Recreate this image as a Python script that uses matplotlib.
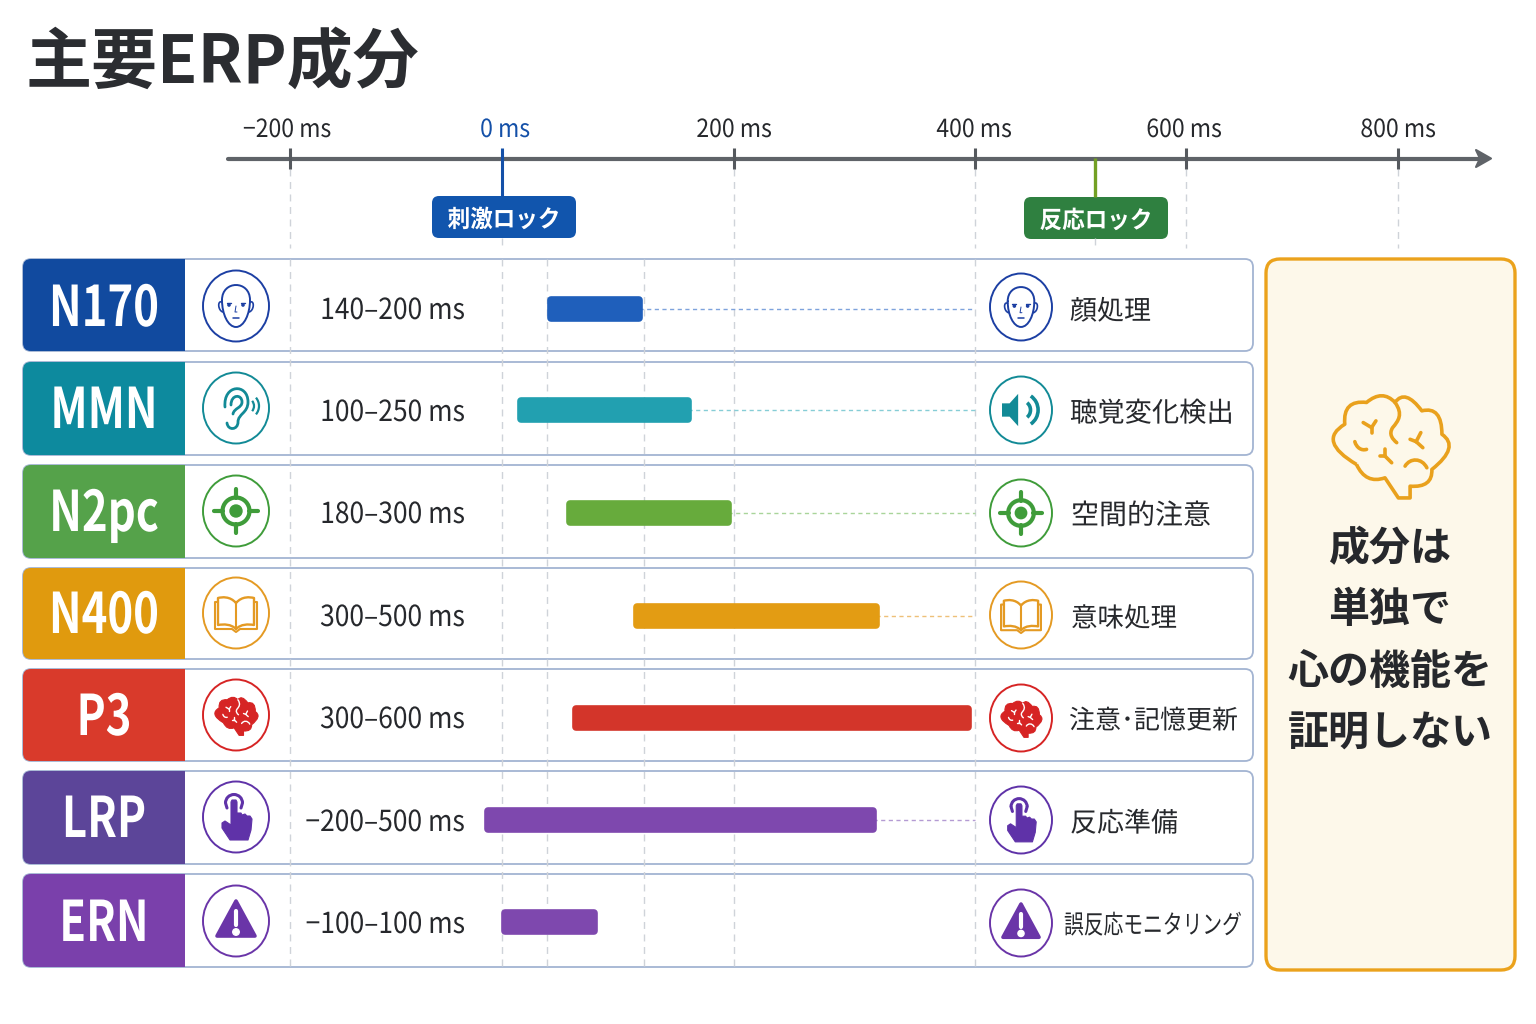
import numpy as np
import matplotlib
matplotlib.use("Agg")
import matplotlib.pyplot as plt
from matplotlib.patches import Arc, Ellipse, FancyBboxPatch, PathPatch, Polygon, Rectangle
from matplotlib.patheffects import AbstractPathEffect
from matplotlib.path import Path
from matplotlib.transforms import Affine2D

plt.rcParams["font.family"] = ["Noto Sans CJK JP", "DejaVu Sans"]

components = ["N170", "MMN", "N2pc", "N400", "P3", "LRP", "ERN"]
ranges = ["140–200 ms", "100–250 ms", "180–300 ms", "300–500 ms", "300–600 ms",
          "−200–500 ms", "−100–100 ms"]
functions_jp = ["顔処理", "聴覚変化検出", "空間的注意", "意味処理", "注意･記憶更新",
                "反応準備", "誤反応モニタリング"]
# bar ends as drawn against the axis (the picture does not follow the printed ranges)
bar_start = [42, 16, 59, 116, 64, -13, 3]
bar_end = [118, 160, 195, 318, 394, 315, 79]
has_link = [True, True, True, True, False, True, False]
tick_ms = [-200, 0, 200, 400, 600, 800]
tick_labels = ["−200 ms", "0 ms", "200 ms", "400 ms", "600 ms", "800 ms"]
bar_edges_ms = [39, 122]
response_lock_ms = 514
panel_lines = ["成分は", "単独で", "心の機能を", "証明しない"]

block_colors = ["#114a9f", "#0d8a9e", "#55a24a", "#e09a0e", "#d93a2b", "#5c4599", "#7a40ab"]
bar_colors = ["#1f5fbb", "#22a0b0", "#67ab3c", "#e39c13", "#d3352a", "#7e48ae", "#7e48ae"]
icon_colors = ["#1c3fa3", "#128a96", "#3f9c3a", "#e49a23", "#d62424", "#5f32a8", "#6a35a8"]
link_colors = ["#7ea3dc", "#86cdd6", "#a9d59a", "#eec078", "#e9a0a0", "#b49bd3", "#b49bd3"]

# layout, pixels of the 1536x1024 picture
row_top = [259, 362, 465, 568, 669, 771, 874]
row_bottom = [351, 455, 558, 659, 761, 864, 967]
left_icon_y = [306, 408, 511, 613, 715, 817, 921]
right_icon_y = [307, 410, 513, 615, 718, 820, 923]
text_y = [312, 414, 516, 619, 721, 824, 926]
bar_y = [309, 410, 513, 616, 718, 820, 922]
label_dx = [-3, 3, 0, -1, -2, 0]
fn_x = [1070, 1070, 1071, 1071, 1069, 1070, 1064]
fn_px = [27, 27.3, 28, 26.5, 26, 27, 26]
fn_sx = [1, 1, 1, 1, 1, 1, 0.76]

INK = "#26282c"
GRID = "#cfd3d9"
AXIS = "#5f6368"
BLUE = "#1450a8"
GREEN_TICK = "#73a024"


class Squeeze(AbstractPathEffect):
    # narrows glyphs around a fixed x, none of the installed fonts is condensed
    def __init__(self, sx, x0):
        super().__init__()
        self.sx = sx
        self.x0 = x0

    def draw_path(self, renderer, gc, tpath, affine, rgbFace=None):
        squeeze = Affine2D().translate(-self.x0, 0).scale(self.sx, 1).translate(self.x0, 0)
        renderer.draw_path(gc, tpath, affine + squeeze, rgbFace)


def px(size):
    return size * 0.72


def bez(*parts):
    verts, codes = [], []
    for i, p in enumerate(parts):
        if len(p) == 2:
            verts.append(p)
            codes.append(Path.MOVETO if i == 0 else Path.LINETO)
        else:
            verts += [p[:2], p[2:4], p[4:6]]
            codes += [Path.CURVE4] * 3
    return np.array(verts, float), codes


def stroke(ax, cx, cy, s, parts, color, lw, fill=None):
    verts, codes = bez(*parts)
    verts = verts * s + [cx, cy]
    ax.add_patch(PathPatch(Path(verts, codes), fc=fill or "none", ec=color, lw=lw,
                           capstyle="round", joinstyle="round", zorder=4))


def poly(ax, cx, cy, s, pts, color, lw=0.0, edge=None):
    ax.add_patch(Polygon(np.array(pts, float) * s + [cx, cy], closed=True, fc=color,
                         ec=edge or color, lw=lw, joinstyle="round", zorder=4))


def arc(ax, cx, cy, r, t1, t2, color, lw):
    ax.add_patch(Arc((cx, cy), 2 * r, 2 * r, theta1=t1, theta2=t2, color=color, lw=lw, zorder=4))


def face_icon(ax, cx, cy, s, c):
    head = [(-14, -6), (-14, -26, 14, -26, 14, -6), (14, 8, 8, 21, 0, 21),
            (-8, 21, -14, 8, -14, -6)]
    stroke(ax, cx, cy, s, head, c, 1.4)
    stroke(ax, cx, cy, s, [(-14, -4), (-19, -6, -18, 5, -13, 6)], c, 1.2)
    stroke(ax, cx, cy, s, [(14, -4), (19, -6, 18, 5, 13, 6)], c, 1.2)
    for side in (-1, 1):
        stroke(ax, cx, cy, s, [(side * 9, -3), (side * 5, -3)], c, 1.0)
        ax.add_patch(Ellipse((cx + side * 7 * s, cy - 1 * s), 2.2, 2.2, color=c, zorder=4))
    stroke(ax, cx, cy, s, [(0, 0), (-1, 6), (1, 6)], c, 0.7)
    stroke(ax, cx, cy, s, [(-3, 12), (3, 12)], c, 1.1)


def ear_icon(ax, cx, cy, s, c):
    outer = [(-11, -1), (-13, -24, 12, -25, 12, -6), (12, 5, 2, 6, 2, 14), (2, 22, -8, 23, -9, 15)]
    inner = [(-5, -3), (-5, -14, 6, -14, 6, -6), (6, 0, -2, 0, -3, 6)]
    stroke(ax, cx, cy, s, outer, c, 2.0)
    stroke(ax, cx, cy, s, inner, c, 2.0)
    arc(ax, cx + 10 * s, cy - 2 * s, 8 * s, -40, 40, c, 1.6)
    arc(ax, cx + 10 * s, cy - 2 * s, 13 * s, -40, 40, c, 1.6)


def speaker_icon(ax, cx, cy, s, c):
    poly(ax, cx, cy, s, [(-20, -7), (-12, -7), (-3, -17), (-3, 17), (-12, 7), (-20, 7)], c)
    arc(ax, cx, cy, 10 * s, -50, 50, c, 2.6)
    arc(ax, cx, cy, 18 * s, -55, 55, c, 2.6)


def target_icon(ax, cx, cy, s, c):
    ax.add_patch(Ellipse((cx, cy), 27 * s, 27 * s, fc="none", ec=c, lw=3.0, zorder=4))
    ax.add_patch(Ellipse((cx, cy), 12 * s, 12 * s, fc=c, ec=c, zorder=4))
    for dx, dy in [(1, 0), (-1, 0), (0, 1), (0, -1)]:
        stroke(ax, cx, cy, s, [(dx * 13, dy * 13), (dx * 22, dy * 22)], c, 3.0)


def book_icon(ax, cx, cy, s, c):
    page = [(0, -10), (-6, -17, -14, -16, -18, -15), (-18, 12), (-12, 11, -5, 11, 0, 16),
            (5, 11, 12, 11, 18, 12), (18, -15), (14, -16, 6, -17, 0, -10)]
    stroke(ax, cx, cy, s, page, c, 1.7)
    stroke(ax, cx, cy, s, [(0, -10), (0, 16)], c, 1.5)
    back = [(-18, -11), (-21, -11), (-21, 16), (-4, 16), (0, 19), (4, 16), (21, 16), (21, -11), (18, -11)]
    stroke(ax, cx, cy, s, back, c, 1.5)


# outline as (end, point the curve passes through); None means a straight piece
BRAIN_START = (-100, 55)
BRAIN_LOBES = [((-135, -65), (-168, -10)), ((-70, -130), (-122, -118)), ((15, -130), (-25, -150)),
               ((95, -105), (50, -145)), ((155, -35), (140, -95)), ((125, 70), (175, 10)),
               ((60, 120), (110, 110)), ((60, 155), None), ((25, 155), None), ((-15, 95), None),
               ((-100, 55), (-65, 95))]
BRAIN_STROKES = [
    [(15, -130), (40, -95, 25, -75, 8, -55), (-5, -35, 8, -20, 20, -10)],
    [(-80, -70), (-55, -55)], [(-42, -75), (-55, -55)], [(-55, -55), (-55, -40)],
    [(60, -20), (78, -13)], [(92, -40), (78, -13)], [(78, -13), (98, 5)],
    [(-15, 10), (-15, 30)], [(-30, 30), (-15, 30)], [(-15, 30), (5, 50)],
    [(-105, -13), (-100, 5, -85, 15, -70, 10)],
    [(45, 60), (60, 35, 95, 35, 110, 65)],
]


def brain_icon(ax, cx, cy, s, edge, lw, fill=None, detail=None, detail_lw=None):
    verts, codes = [BRAIN_START], [Path.MOVETO]
    prev = np.array(BRAIN_START, float)
    for end, through in BRAIN_LOBES:
        end = np.array(end, float)
        if through is None:
            verts.append(end)
            codes.append(Path.LINETO)
        else:
            verts += [2 * np.array(through, float) - (prev + end) / 2, end]
            codes += [Path.CURVE3, Path.CURVE3]
        prev = end
    verts = np.array(verts, float) * s + [cx, cy]
    ax.add_patch(PathPatch(Path(verts, codes), fc=fill or "none", ec=edge, lw=lw,
                           joinstyle="round", zorder=4))
    for part in BRAIN_STROKES:
        scaled = [tuple(v * s for v in pt) for pt in part]
        stroke(ax, cx, cy, 1, scaled, detail or edge, detail_lw or lw)


def red_brain_icon(ax, cx, cy, s, c):
    brain_icon(ax, cx, cy + 1 * s, 0.125 * s, c, 0.8, fill=c, detail="white", detail_lw=1.0)


def hand_icon(ax, cx, cy, s, c):
    pts = [(-5, -15), (-4, -17), (0, -17), (1, -15), (1, -4), (5, -4), (6, -2), (9, -3), (11, -1),
           (14, -1), (16, 2), (15, 13), (12, 23), (-6, 23), (-14, 11), (-14, 6), (-11, 4), (-5, 8)]
    poly(ax, cx, cy, s, pts, c, lw=0.8)
    arc(ax, cx - 2 * s, cy - 14 * s, 8.5 * s, 180, 360, c, 2.2)
    stroke(ax, cx, cy, s, [(-10.5, -14), (-9, -9)], c, 2.2)
    stroke(ax, cx, cy, s, [(6.5, -14), (5, -9)], c, 2.2)


def warning_icon(ax, cx, cy, s, c):
    poly(ax, cx, cy, s, [(0, -20), (19, 15), (-19, 15)], c, lw=2.6)
    stroke(ax, cx, cy, s, [(0, -10), (0, 4)], "white", 3.0)
    ax.add_patch(Ellipse((cx, cy + 11 * s), 6.5 * s, 6.5 * s, color="white", zorder=5))


left_icons = [face_icon, ear_icon, target_icon, book_icon, red_brain_icon, hand_icon, warning_icon]
right_icons = [face_icon, speaker_icon, target_icon, book_icon, red_brain_icon, hand_icon, warning_icon]

fig = plt.figure(figsize=(15.36, 10.24), dpi=100, facecolor="white")
ax = fig.add_axes([0, 0, 1, 1])
ax.set_xlim(0, 1536)
ax.set_ylim(1024, 0)
ax.axis("off")

# timeline axes, on top of the cards; its x scale follows the uneven tick spacing
anchor_px = [0, 290, 502, 734, 975, 1186, 1398, 1536]
anchor_ms = [-473.6, -200, 0, 200, 400, 600, 800, 930.2]
tax = fig.add_axes([0, 0, 1, 1], zorder=3)
tax.patch.set_visible(False)
tax.set_xscale("function", functions=(lambda v: np.interp(v, anchor_ms, anchor_px),
                                      lambda v: np.interp(v, anchor_px, anchor_ms)))
tax.set_xlim(anchor_ms[0], anchor_ms[-1])
tax.set_ylim(1024, 0)
tax.axis("off")

ax.text(26, 63, "主要ERP成分", fontsize=px(66), fontweight="bold", color="#2b2d31", va="center")

# cards
for i, name in enumerate(components):
    x0, x1, y0, y1 = 23, 1253, row_top[i], row_bottom[i]
    card = FancyBboxPatch((x0, y0), x1 - x0, y1 - y0, boxstyle="round,pad=0,rounding_size=8",
                          fc="white", ec="#a3b4d2", lw=1.3, zorder=1)
    ax.add_patch(card)
    block = FancyBboxPatch((x0, y0), x1 - x0, y1 - y0, boxstyle="round,pad=0,rounding_size=8",
                           fc=block_colors[i], ec="none", zorder=2)
    ax.add_patch(block)
    block.set_clip_path(Rectangle((x0, y0 - 2), 185 - x0, y1 - y0 + 4, transform=ax.transData))
    ax.text(104, left_icon_y[i] + 4, name, color="white", fontsize=px(56), fontweight="bold",
            ha="center", va="center", zorder=3, path_effects=[Squeeze(0.78, 104)])
    ax.add_patch(Ellipse((236, left_icon_y[i]), 66, 71, fc="white", ec=icon_colors[i], lw=1.4, zorder=3))
    left_icons[i](ax, 236, left_icon_y[i], 1.0, icon_colors[i])
    ax.add_patch(Ellipse((1021, right_icon_y[i]), 62, 67, fc="white", ec=icon_colors[i], lw=1.4, zorder=3))
    right_icons[i](ax, 1021, right_icon_y[i], 0.95, icon_colors[i])
    ax.text(465, text_y[i] - 1, ranges[i], color=INK, fontsize=px(29), ha="right", va="center",
            zorder=3, path_effects=[Squeeze(0.91, 465)])
    ax.text(fn_x[i], text_y[i], functions_jp[i], color=INK, fontsize=px(fn_px[i]), ha="left",
            va="center", zorder=3, path_effects=[Squeeze(fn_sx[i], fn_x[i])])

# grid
for ms in tick_ms + [response_lock_ms]:
    top = 238 if ms in (0, response_lock_ms) else 169
    tax.plot([ms, ms], [top, 248], color=GRID, lw=1.0, ls=(0, (5, 4)), zorder=1)
for ms in [-200, 0, 200, 400] + bar_edges_ms:
    tax.plot([ms, ms], [259, 967], color=GRID, lw=1.0, ls=(0, (5, 4)), zorder=1)

# axis line and ticks
ax.plot([228, 1484], [158.5, 158.5], color=AXIS, lw=3.0, solid_capstyle="round", zorder=3)
poly(ax, 0, 0, 1, [(1476, 150), (1491, 158.5), (1476, 167), (1480, 158.5)], AXIS, lw=1.5)
for ms, label, dx in zip(tick_ms, tick_labels, label_dx):
    color = BLUE if ms == 0 else INK
    tax.plot([ms, ms], [148, 196 if ms == 0 else 169], color=BLUE if ms == 0 else "#55595e",
             lw=2.2, zorder=4, solid_capstyle="butt")
    tax.annotate(label, (ms, 130), xytext=(dx, 0), textcoords="offset pixels", color=color,
                 fontsize=px(25), ha="center", va="center",
                 path_effects=[Squeeze(0.92, np.interp(ms, anchor_ms, anchor_px) + dx)])
tax.plot([response_lock_ms] * 2, [158, 197], color=GREEN_TICK, lw=2.4, zorder=4, solid_capstyle="butt")

# lock badges
for x0, y0, color, label in [(432, 196, "#1155ad", "刺激ロック"), (1024, 197, "#2f8040", "反応ロック")]:
    ax.add_patch(FancyBboxPatch((x0, y0), 144, 42, boxstyle="round,pad=0,rounding_size=7",
                                fc=color, ec="none", zorder=5))
    ax.text(x0 + 72, y0 + 24, label, color="white", fontsize=px(24), fontweight="bold",
            ha="center", va="center", zorder=6, path_effects=[Squeeze(0.94, x0 + 72)])

# latency bars, drawn with a thick round-joined edge to get the soft corners
for i in range(len(components)):
    tax.barh(bar_y[i], bar_end[i] - bar_start[i], left=bar_start[i], height=18.5,
             color=bar_colors[i], edgecolor=bar_colors[i], linewidth=5.5, joinstyle="round", zorder=5)
    if has_link[i]:
        tax.plot([bar_end[i], 400], [bar_y[i]] * 2, color=link_colors[i], lw=1.0,
                 ls=(0, (3, 2.5)), zorder=2)

# right panel
ax.add_patch(FancyBboxPatch((1266, 259), 249, 711, boxstyle="round,pad=0,rounding_size=14",
                            fc="#fdf8ea", ec="#eba21c", lw=2.4, zorder=1))
brain_icon(ax, 1390, 446, 0.335, "#e9a11d", 2.6)
for y, line in zip([549, 610, 672, 734], panel_lines):
    ax.text(1390, y, line, color=INK, fontsize=px(41), fontweight="bold", ha="center", va="center", zorder=3)

fig.savefig("out.png", dpi=100)
